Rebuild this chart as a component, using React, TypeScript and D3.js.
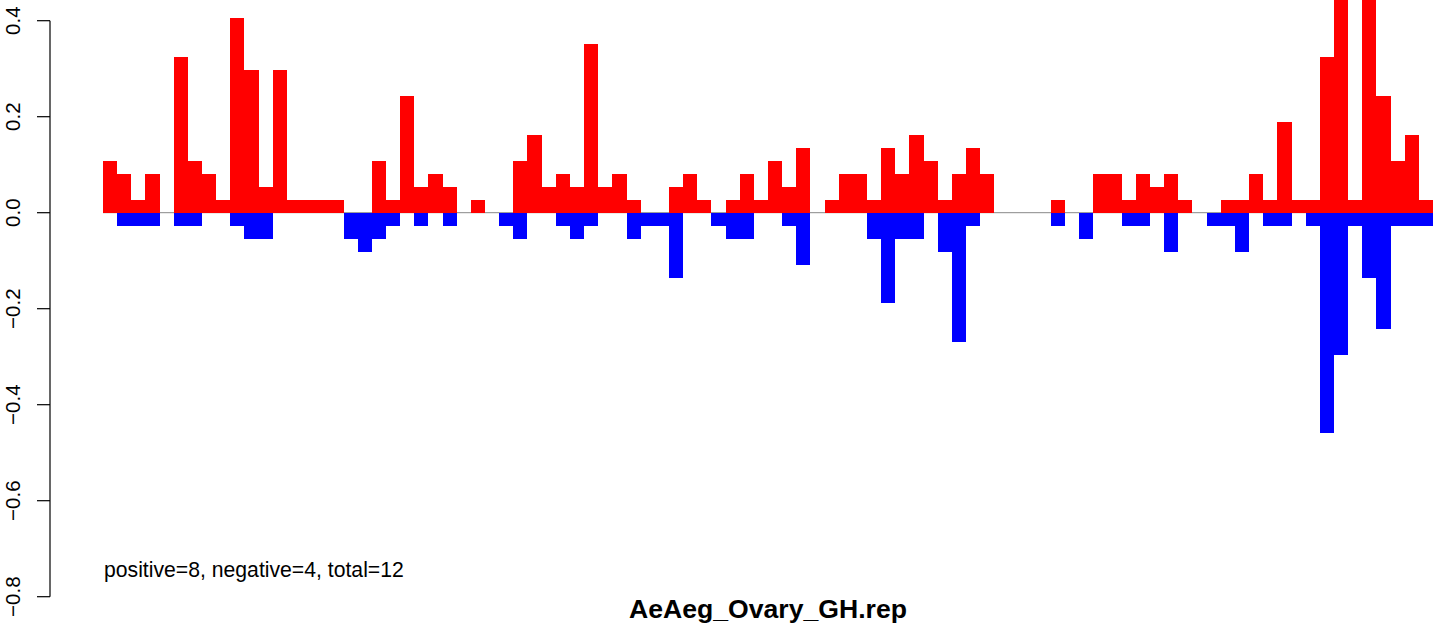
import React from "react";
import * as d3 from "d3";

const title = "AeAeg_Ovary_GH.rep";
const note = "positive=8, negative=4, total=12";

const positive: number[] = [
  0.108, 0.081, 0.027, 0.081, 0, 0.324, 0.108, 0.081, 0.027, 0.405, 0.297, 0.054, 0.297, 0.027, 0.027, 0.027, 0.027,
  0, 0, 0.108, 0.027, 0.243, 0.054, 0.081, 0.054, 0, 0.027, 0, 0, 0.108, 0.162, 0.054, 0.081, 0.054,
  0.351, 0.054, 0.081, 0.027, 0, 0, 0.054, 0.081, 0.027, 0, 0.027, 0.081, 0.027, 0.108, 0.054, 0.135, 0,
  0.027, 0.081, 0.081, 0.027, 0.135, 0.081, 0.162, 0.108, 0.027, 0.081, 0.135, 0.081, 0, 0, 0, 0,
  0.027, 0, 0, 0.081, 0.081, 0.027, 0.081, 0.054, 0.081, 0.027, 0, 0, 0.027, 0.027, 0.081, 0.027, 0.189, 0.027,
  0.027, 0.324, 0.486, 0.027, 0.486, 0.243, 0.108, 0.162, 0.027,
];

const negative: number[] = [
  0, -0.027, -0.027, -0.027, 0, -0.027, -0.027, 0, 0, -0.027, -0.054, -0.054, 0, 0, 0, 0, 0,
  -0.054, -0.081, -0.054, -0.027, 0, -0.027, 0, -0.027, 0, 0, 0, -0.027, -0.054, 0, 0, -0.027, -0.054,
  -0.027, 0, 0, -0.054, -0.027, -0.027, -0.135, 0, 0, -0.027, -0.054, -0.054, 0, 0, -0.027, -0.108, 0,
  0, 0, 0, -0.054, -0.189, -0.054, -0.054, 0, -0.081, -0.27, -0.027, 0, 0, 0, 0, 0,
  -0.027, 0, -0.054, 0, 0, -0.027, -0.027, 0, -0.081, 0, 0, -0.027, -0.027, -0.081, 0, -0.027, -0.027, 0,
  -0.027, -0.459, -0.297, -0.027, -0.135, -0.243, -0.027, -0.027, -0.027,
];

const bins: number[] = positive.map((_, i) => i + 1);
const yTicks: number[] = [-0.8, -0.6, -0.4, -0.2, 0, 0.2, 0.4];

const W = 1449;
const H = 627;

export default function App() {
  const x = d3.scaleBand<number>().domain(bins).range([103, 1433]).padding(0);
  const y = d3.scaleLinear().domain([-0.8, 0.4]).range([596.7, 20.7]);
  const y0 = y(0);
  const font = "'Liberation Sans', Arial, Helvetica, sans-serif";
  const axisX = 50;

  return (
    <svg
      width={W}
      height={H}
      viewBox={`0 0 ${W} ${H}`}
      style={{ position: "absolute", left: 0, top: 0, background: "#fff" }}
      fontFamily={font}
    >
      <rect x={0} y={0} width={W} height={H} fill="#fff" />
      <line x1={103} x2={1433} y1={y0} y2={y0} stroke="#888" strokeWidth={1} />
      <g shapeRendering="crispEdges">
        {bins.map((b, i) =>
          positive[i] > 0 ? (
            <rect
              key={"p" + b}
              x={x(b)}
              y={y(positive[i])}
              width={x.bandwidth()}
              height={y0 - y(positive[i])}
              fill="#FF0000"
            />
          ) : null
        )}
        {bins.map((b, i) =>
          negative[i] < 0 ? (
            <rect
              key={"n" + b}
              x={x(b)}
              y={y0}
              width={x.bandwidth()}
              height={y(negative[i]) - y0}
              fill="#0000FF"
            />
          ) : null
        )}
      </g>
      <g>
        <line x1={axisX} x2={axisX} y1={y(0.4)} y2={y(-0.8)} stroke="#000" strokeWidth={1.2} />
        {yTicks.map((t) => (
          <g key={t}>
            <line x1={axisX - 13} x2={axisX} y1={y(t)} y2={y(t)} stroke="#000" strokeWidth={1.2} />
            <text
              transform={`translate(20,${y(t)}) rotate(-90)`}
              textAnchor="middle"
              fontSize={20.5}
              fill="#000"
            >
              {t === 0 ? "0.0" : d3.format(".1f")(t).replace("-", "\u2212")}
            </text>
          </g>
        ))}
      </g>
      <text x={104} y={577} fontSize={21.2} fill="#000">
        {note}
      </text>
      <text x={768} y={618} textAnchor="middle" fontSize={26.6} fontWeight="bold" fill="#000">
        {title}
      </text>
    </svg>
  );
}
